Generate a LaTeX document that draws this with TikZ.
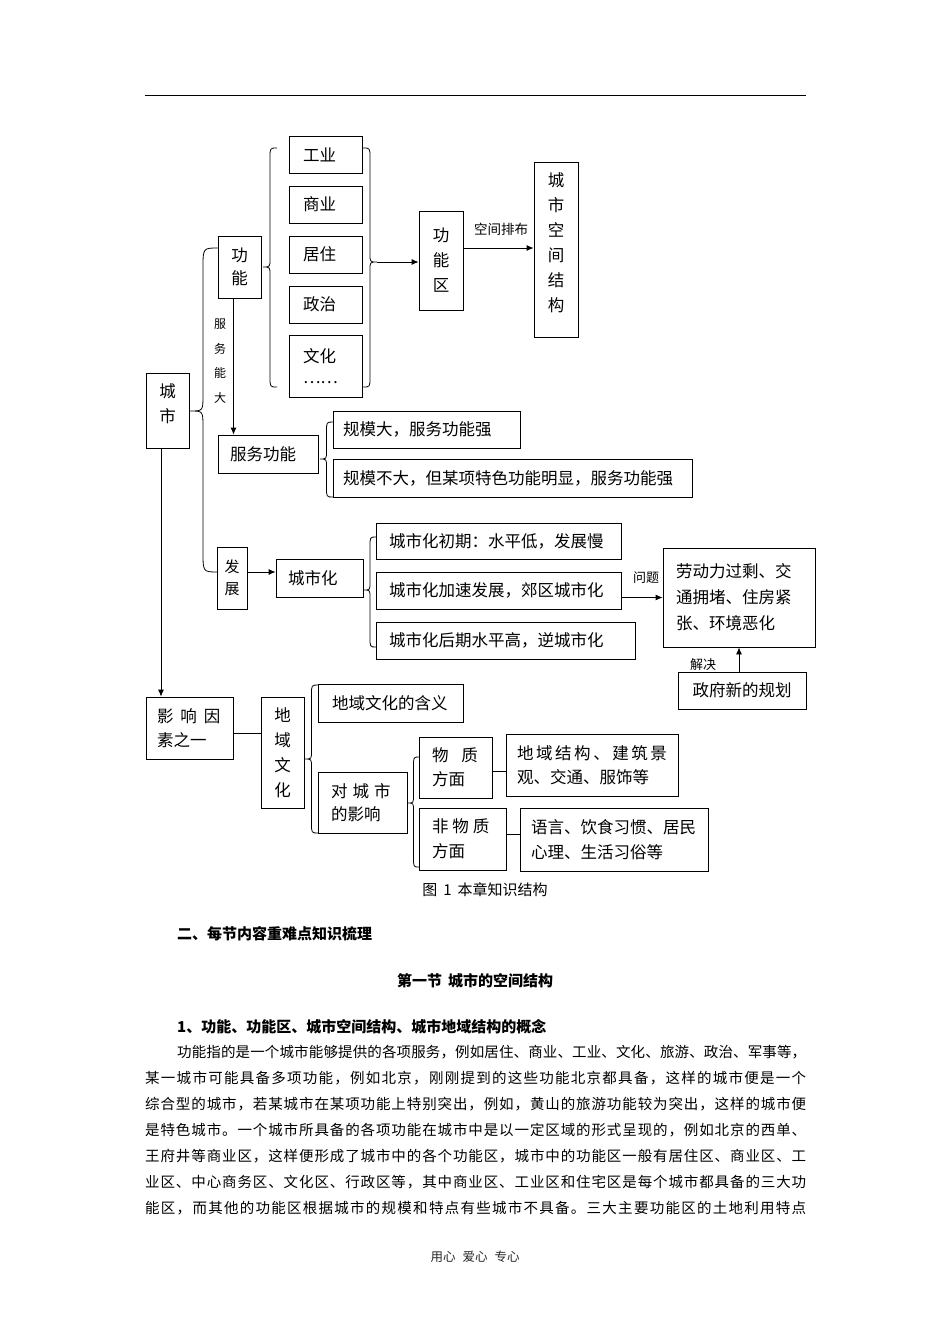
\documentclass[tikz,border=0pt]{standalone}
\usepackage{fontspec}
\usetikzlibrary{arrows.meta,calc}
\newfontfamily\cjk{Noto Sans CJK SC}
\def\spreadtok#1{\ifx#1\relax\else#1\hfil\expandafter\spreadtok\fi}
\newcommand\mybrace[5]{% xtip xend ytop ymid ybot
\draw[ln] ({#2},{#3}) .. controls ({(#1+#2)/2},{#3}) .. ({(#1+#2)/2},{#3+10}) -- ({(#1+#2)/2},{#4-8}) .. controls ({(#1+#2)/2},{#4}) .. ({#1},{#4}) .. controls ({(#1+#2)/2},{#4}) .. ({(#1+#2)/2},{#4+8}) -- ({(#1+#2)/2},{#5-10}) .. controls ({(#1+#2)/2},{#5}) .. ({#2},{#5});}
\tikzset{
 ln/.style={line width=0.8pt},
 arr/.style={ln,-{Latex[length=7pt,width=6pt]}},
 bx/.style={draw, ln, inner sep=0pt, font=\cjk\fontsize{16.5}{24}\selectfont},
 lbx/.style={bx, align=left},
 vbx/.style={bx, align=center},
 lbl/.style={inner sep=0pt, font=\cjk\fontsize{13.5}{16}\selectfont},
 body/.style={inner sep=0pt, anchor=west, font=\cjk\fontsize{14.5}{18}\selectfont},
 hd/.style={inner sep=0pt, font=\cjk\bfseries\fontsize{15}{18}\selectfont},
}
\begin{document}
\begin{tikzpicture}[x=1pt,y=-1pt]
\fill[white] (0,0) rectangle (950,1344);
\useasboundingbox (0,0) rectangle (950,1344);
\draw[ln] (145,95) -- (806,95);

% function items
\node[lbx, minimum height=37pt, inner xsep=14pt, text width=45pt] (gy) at (325.5,154.5) {工业};
\node[lbx, minimum height=37pt, inner xsep=14pt, text width=45pt] (sy) at (325.5,204.5) {商业};
\node[lbx, minimum height=37pt, inner xsep=14pt, text width=45pt] (jz) at (325.5,254.5) {居住};
\node[lbx, minimum height=37pt, inner xsep=14pt, text width=45pt] (zz) at (325.5,304.5) {政治};
\node[lbx, minimum height=62pt, inner xsep=14pt, text width=45pt, font=\cjk\fontsize{16.5}{21}\selectfont] (wh) at (325.5,366) {文化\\……};

\node[vbx, minimum width=43pt, minimum height=62pt, font=\cjk\fontsize{16.5}{23}\selectfont] (gn) at (239.5,267) {功\\能};
\node[vbx, minimum width=43pt, minimum height=75pt, font=\cjk\fontsize{16.5}{25}\selectfont] (cs) at (167.5,410.5) {城\\市\\[-10pt]};
\node[vbx, minimum width=44pt, minimum height=99pt, font=\cjk\fontsize{16.5}{25}\selectfont] (gnq) at (441,260.5) {功\\能\\区};
\node[vbx, minimum width=44pt, minimum height=175pt, font=\cjk\fontsize{16.5}{25}\selectfont] (kj) at (556,249.5) {城\\市\\空\\间\\结\\构\\[-10pt]};

\node[lbx, minimum height=38pt, inner xsep=12pt, text width=76pt] (fw) at (268,454) {服务功能};
\node[lbx, minimum height=37pt, inner xsep=10pt, text width=167pt] (gm1) at (426.5,429.5) {规模大，服务功能强};
\node[lbx, minimum height=38pt, inner xsep=10pt, text width=339pt] (gm2) at (512.5,478) {规模不大，但某项特色功能明显，服务功能强};

\node[vbx, minimum width=30pt, minimum height=62pt, font=\cjk\fontsize{15}{22}\selectfont] (fz) at (232,578) {发\\展};
\node[lbx, minimum height=38pt, inner xsep=12pt, text width=63pt] (csh) at (319.5,578) {城市化};
\node[lbx, minimum height=36pt, inner xsep=13pt, text width=219pt] (u1) at (498.5,541) {城市化初期：水平低，发展慢};
\node[lbx, minimum height=37pt, inner xsep=13pt, text width=219pt] (u2) at (498.5,590.5) {城市化加速发展，郊区城市化};
\node[lbx, minimum height=37pt, inner xsep=13pt, text width=233pt] (u3) at (505.5,640.5) {城市化后期水平高，逆城市化};
\node[lbx, minimum height=99pt, inner xsep=13pt, text width=126pt, font=\cjk\fontsize{16.5}{26}\selectfont] (wt) at (739,597.5) {劳动力过剩、交\\通拥堵、住房紧\\张、环境恶化};
\node[vbx, minimum width=128pt, minimum height=37pt] (zf) at (742,690.5) {政府新的规划};

\node[lbx, minimum height=62pt, inner xsep=11pt, text width=65pt] (yx) at (189.5,728) {影\hspace{7pt}响\hspace{7pt}因\\素之一};
\node[vbx, minimum width=43pt, minimum height=111pt, font=\cjk\fontsize{16.5}{25}\selectfont] (dy) at (282.5,752.5) {地\\域\\文\\化};
\node[lbx, minimum height=38pt, inner xsep=14pt, text width=117pt] (hy) at (390.5,703) {地域文化的含义};
\node[lbx, minimum height=61pt, inner xsep=13pt, text width=63pt, font=\cjk\fontsize{16.5}{23}\selectfont] (dc) at (362.5,802.5) {对\hspace{5pt}城\hspace{5pt}市\\的影响};
\node[lbx, minimum height=61pt, inner xsep=13pt, text width=47pt] (wz) at (455.5,767.5) {物\hspace{13pt}质\\方面};
\node[lbx, minimum height=62pt, inner xsep=11pt, text width=150pt] (dj) at (592,765) {\hbox to 150pt{\spreadtok 地域结构、建筑景\relax\unskip}\\观、交通、服饰等};
\node[lbx, minimum height=62pt, inner xsep=13pt, text width=61pt, font=\cjk\fontsize{16.5}{25}\selectfont] (fwz) at (462.5,839) {非\hspace{4pt}物\hspace{4pt}质\\方面};
\node[lbx, minimum height=63pt, inner xsep=11pt, text width=166pt, font=\cjk\fontsize{16.5}{25}\selectfont] (yy) at (614,839.5) {语言、饮食习惯、居民\\心理、生活习俗等};

% labels
\node[lbl] (l1) at (501,229) {空间排布};
\node[lbl, font=\cjk\fontsize{13}{16}\selectfont] (l2) at (646,578) {问题};
\node[lbl, font=\cjk\fontsize{13}{16}\selectfont] (l3) at (703,665) {解决};
\node[lbl, align=center, font=\cjk\fontsize{12}{24.5}\selectfont] (l4) at (220,361) {服\\务\\能\\大};
\node[lbl, font=\cjk\fontsize{15}{18}\selectfont] (cap) at (485,890) {图\hspace{6pt}1\hspace{6pt}本章知识结构};

% braces
\draw[ln] (218,248) .. controls (203,248) .. (203,268) -- (203,395) .. controls (203,411) .. (190,411) .. controls (203,411) .. (203,427) -- (203,552) .. controls (203,572) .. (218,572);
\mybrace{263}{277}{148}{267}{387}
\mybrace{377}{363}{148}{262}{387}
\mybrace{320}{333}{422}{459}{497}
\mybrace{364}{376}{537}{590}{647}
\mybrace{305}{318}{685}{759}{833}
\mybrace{408}{419}{757}{803}{867}

% connectors
\coordinate (rb) at (377,262);
\draw[arr] (rb) -- (rb -| gnq.west);
\draw[arr] ([yshift=12.5pt]gnq.east) coordinate (a1) -- (a1 -| kj.west);
\draw[arr] ([xshift=-6pt]gn.south) coordinate (a2) -- (a2 |- fw.north);
\draw[arr] ([yshift=6pt]fz.east) coordinate (a3) -- (a3 -| csh.west);
\draw[arr] (u2.east |- wt.west) -- (wt.west);
\draw[arr] (zf.north -| wt.south) -- (wt.south);
\draw[arr] ([xshift=-6.5pt]cs.south) coordinate (a4) -- (a4 |- yx.north);
\draw[ln] ([yshift=-5pt]yx.east) coordinate (a5) -- (a5 -| dy.west);
\draw[ln] ([yshift=-4pt]wz.east) coordinate (a6) -- (a6 -| dj.west);
\draw[ln] ([yshift=5pt]fwz.east) coordinate (a7) -- (a7 -| yy.west);

% text below
\node[hd, anchor=west] (h1) at (177,934) {二、每节内容重难点知识梳理};
\node[hd] (h2) at (475,981) {第一节\hspace{6pt}城市的空间结构};
\node[hd, anchor=west] (h3) at (177,1027) {1、功能、功能区、城市空间结构、城市地域结构的概念};
\node[body] (p1) at (177,1052) {\hbox to 629pt{\spreadtok 功能指的是一个城市能够提供的各项服务，例如居住、商业、工业、文化、旅游、政治、军事等，\relax\unskip}};
\node[body] (p2) at (145,1078) {\hbox to 661pt{\spreadtok 某一城市可能具备多项功能，例如北京，刚刚提到的这些功能北京都具备，这样的城市便是一个\relax\unskip}};
\node[body] (p3) at (145,1104) {\hbox to 661pt{\spreadtok 综合型的城市，若某城市在某项功能上特别突出，例如，黄山的旅游功能较为突出，这样的城市便\relax\unskip}};
\node[body] (p4) at (145,1130) {\hbox to 661pt{\spreadtok 是特色城市。一个城市所具备的各项功能在城市中是以一定区域的形式呈现的，例如北京的西单、\relax\unskip}};
\node[body] (p5) at (145,1156) {\hbox to 661pt{\spreadtok 王府井等商业区，这样便形成了城市中的各个功能区，城市中的功能区一般有居住区、商业区、工\relax\unskip}};
\node[body] (p6) at (145,1182) {\hbox to 661pt{\spreadtok 业区、中心商务区、文化区、行政区等，其中商业区、工业区和住宅区是每个城市都具备的三大功\relax\unskip}};
\node[body] (p7) at (145,1208) {\hbox to 661pt{\spreadtok 能区，而其他的功能区根据城市的规模和特点有些城市不具备。三大主要功能区的土地利用特点\relax\unskip}};
\node[inner sep=0pt, font=\cjk\fontsize{12.5}{15}\selectfont, text=black!85] (ft) at (475,1257) {用心\hspace{7pt}爱心\hspace{7pt}专心};
\end{tikzpicture}
\end{document}
